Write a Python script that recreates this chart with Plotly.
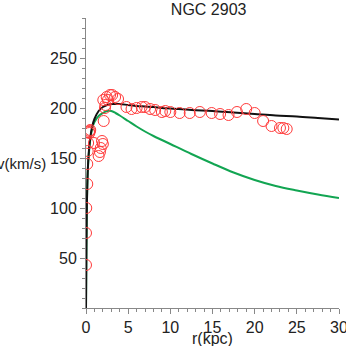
import plotly.graph_objects as go

# observed rotation curve (r in kpc, v in km/s)
obs_r = [0.0, 0.0, 0.03, 0.15, 0.15, 0.2, 0.25, 0.35, 0.4, 0.45, 0.5, 0.95,
         1.5, 1.65, 1.75, 1.9, 2.0, 2.1, 2.05, 2.25, 2.3, 2.45, 2.6, 2.85,
         3.1, 3.45, 3.8, 4.8, 5.4, 6.0, 6.6, 7.0, 7.6, 8.2, 9.0, 9.4, 10.0,
         11.1, 12.3, 13.5, 14.9, 15.9, 16.9, 17.9, 19.0, 20.0, 21.0, 22.0,
         23.0, 23.4, 23.8]
obs_v = [43, 75, 100, 124, 144, 157, 165, 176, 175, 177, 178, 165,
         152, 156, 160, 167, 164, 187, 208, 200, 203, 211, 208, 213,
         213, 211, 209, 201, 199, 200, 201, 201, 199, 198, 196, 197, 196,
         195, 195, 196, 195, 194, 193, 196, 199, 195, 187, 182,
         180, 180, 179]

# model curves
model_r = [0, 0.05, 0.1, 0.2, 0.3, 0.5, 0.75, 1.0, 1.5, 2.0, 2.5, 3.0, 3.5,
           4.0, 5.0, 6.0, 7.0, 8.0, 9.0, 10.0, 12.5, 15.0, 17.5, 20.0, 22.5,
           25.0, 27.5, 30.0]
total_v = [0, 60, 100, 135, 152, 170, 182, 189, 197, 201, 203, 204, 204,
           204, 203, 202, 201.5, 201, 200, 199.5, 198, 197, 195.5, 194, 192.5,
           191.5, 190, 188.5]
disk_v = [0, 60, 100, 135, 150, 168, 180, 186, 192, 195, 197, 197, 195,
          192.5, 187, 181.5, 176.5, 172, 168, 164, 154, 144.5, 135.5, 128, 122,
          117.5, 113.5, 110]

fig = go.Figure()

fig.add_trace(go.Scatter(x=model_r, y=disk_v, mode="lines",
                         line=dict(color="#12a552", width=2, shape="spline")))
fig.add_trace(go.Scatter(x=model_r, y=total_v, mode="lines",
                         line=dict(color="#111111", width=2, shape="spline")))
fig.add_trace(go.Scatter(x=obs_r, y=obs_v, mode="markers",
                         marker=dict(symbol="circle-open", size=11,
                                     color="#ff3b3b", line=dict(width=1))))

fig.add_annotation(x=-0.15, y=0.5, xref="paper", yref="paper",
                   text="v(km/s)", showarrow=False, xanchor="right",
                   font=dict(size=15, color="#222222"))
fig.add_annotation(x=0.5, y=-0.105, xref="paper", yref="paper",
                   text="r(kpc)", showarrow=False, yanchor="middle",
                   font=dict(size=16, color="#222222"))

fig.update_xaxes(range=[0, 30], tickvals=[0, 5, 10, 15, 20, 25, 30],
                 ticks="outside", ticklen=5, tickcolor="#888888",
                 ticklabeloverflow="allow", automargin=False,
                 showline=True, linecolor="#888888", linewidth=1,
                 showgrid=False, zeroline=False,
                 minor=dict(dtick=1, ticks="outside", ticklen=3, tickcolor="#888888"))
fig.update_yaxes(range=[0, 290], tickvals=[50, 100, 150, 200, 250],
                 ticks="outside", ticklen=5, tickcolor="#888888",
                 automargin=False,
                 showline=True, linecolor="#888888", linewidth=1,
                 showgrid=False, zeroline=False,
                 minor=dict(dtick=10, ticks="outside", ticklen=3, tickcolor="#888888"))

fig.update_layout(
    width=346, height=346,
    margin=dict(l=86, r=7, t=18, b=38, autoexpand=False),
    plot_bgcolor="white", paper_bgcolor="white",
    showlegend=False,
    font=dict(family="Arial, Liberation Sans, sans-serif", size=16, color="#222222"),
    title=dict(text="NGC 2903", x=0.603, y=0.972, xanchor="center", yanchor="middle",
               font=dict(size=16, color="#222222")),
)

fig.write_html(
    "out.html",
    config={"displayModeBar": False, "responsive": False},
    post_script="document.body.style.margin='0';document.body.style.overflow='hidden';",
)
